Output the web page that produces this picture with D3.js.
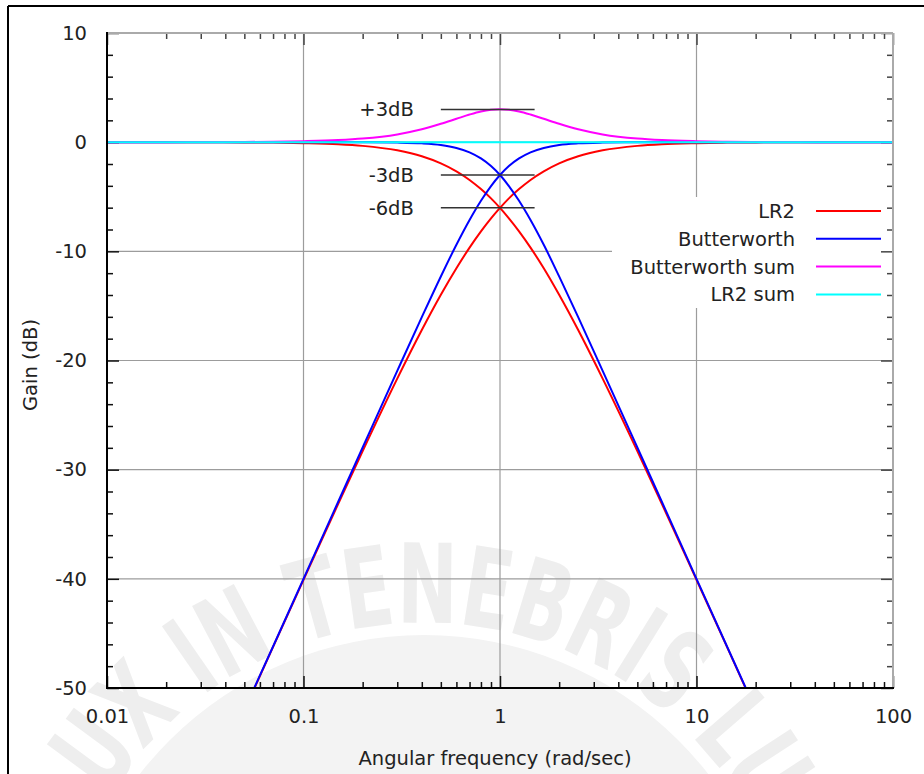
<!DOCTYPE html>
<html>
<head>
<meta charset="utf-8">
<script src="https://cdn.jsdelivr.net/npm/d3@7"></script>
<style>
  body { margin: 0; background: #fff; }
  text { font-family: "DejaVu Sans", sans-serif; }
</style>
</head>
<body>
<svg id="chart" width="924" height="774"></svg>
<script>
// angular frequency (rad/sec), log spaced and symmetric around 1
var freq = [0.01, 0.02, 0.03, 0.05, 0.07, 0.1, 0.15, 0.2, 0.3, 0.4, 0.5, 0.6, 0.7, 0.8, 0.9, 1,
            1.11, 1.25, 1.43, 1.67, 2, 2.5, 3.33, 5, 6.67, 10, 14.3, 20, 33.3, 50, 100];

// gains in dB
var lr2Low  = [0, 0, -0.01, -0.02, -0.04, -0.09, -0.19, -0.34, -0.75, -1.29, -1.94, -2.67, -3.46, -4.30, -5.15, -6.02,
               -6.98, -8.17, -9.66, -11.55, -13.98, -17.21, -21.66, -28.30, -33.15, -40.09, -46.24, -52.06, -60.92, -67.96, -80.0];
var lr2High = [-80.0, -67.96, -60.92, -52.06, -46.24, -40.09, -33.15, -28.30, -21.66, -17.21, -13.98, -11.55, -9.66, -8.17, -6.98, -6.02,
               -5.15, -4.30, -3.46, -2.67, -1.94, -1.29, -0.75, -0.34, -0.19, -0.09, -0.04, -0.02, -0.01, 0, 0];
var bwLow   = [0, 0, 0, 0, 0, 0, 0, -0.01, -0.04, -0.11, -0.26, -0.53, -0.93, -1.49, -2.19, -3.01,
               -4.02, -5.37, -7.13, -9.40, -12.30, -16.03, -20.95, -27.97, -32.96, -40.0, -46.2, -52.0, -60.9, -68.0, -80.0];
var bwHigh  = [-80.0, -68.0, -60.9, -52.0, -46.2, -40.0, -32.96, -27.97, -20.95, -16.03, -12.30, -9.40, -7.13, -5.37, -4.02, -3.01,
               -2.19, -1.49, -0.93, -0.53, -0.26, -0.11, -0.04, -0.01, 0, 0, 0, 0, 0, 0, 0];
var bwSum   = [0, 0, 0.01, 0.02, 0.04, 0.09, 0.19, 0.33, 0.71, 1.18, 1.68, 2.14, 2.53, 2.81, 2.96, 3.01,
               2.96, 2.81, 2.53, 2.14, 1.68, 1.18, 0.71, 0.33, 0.19, 0.09, 0.04, 0.02, 0.01, 0, 0];
var lr2Sum  = [0, 0, 0, 0, 0, 0, 0, 0, 0, 0, 0, 0, 0, 0, 0, 0,
               0, 0, 0, 0, 0, 0, 0, 0, 0, 0, 0, 0, 0, 0, 0];

var seriesNames = ["LR2", "Butterworth", "Butterworth sum", "LR2 sum"];
var seriesColors = ["#ff0000", "#0000ff", "#ff00ff", "#00ffff"];

var xTicks = [0.01, 0.1, 1, 10, 100];
var yTicks = [10, 0, -10, -20, -30, -40, -50];

var annLabels = ["+3dB", "-3dB", "-6dB"];
var annGain = [3, -3, -6];
var annFrom = 0.5, annTo = 1.5;

function main() {
    var svg = d3.select("#chart");
    var X0 = 107, X1 = 893, Y0 = 33, Y1 = 688;
    var fs = 19.5;

    var x = d3.scaleLog().domain([0.01, 100]).range([X0, X1]);
    var y = d3.scaleLinear().domain([-50, 10]).range([Y1, Y0]);

    // faint university seal behind everything
    var wm = svg.append("g");
    wm.append("circle").attr("cx", 424).attr("cy", 995).attr("r", 360).attr("fill", "#f3f3f3");
    var arc = d3.path();
    arc.arc(424, 995, 372, -170 * Math.PI / 180, 10 * Math.PI / 180);
    wm.append("path").attr("id", "wmArc").attr("d", arc.toString()).attr("fill", "none");
    wm.append("text")
        .attr("font-size", 110).attr("font-weight", "bold").attr("fill", "#eeeeee")
        .append("textPath")
        .attr("href", "#wmArc")
        .attr("startOffset", "50%")
        .attr("text-anchor", "middle")
        .attr("textLength", 970)
        .attr("lengthAdjust", "spacingAndGlyphs")
        .text("LUX IN TENEBRIS LUCET");

    // frame round the picture
    svg.append("line").attr("x1", 8).attr("x2", 924).attr("y1", 6).attr("y2", 6)
        .attr("stroke", "#000").attr("stroke-width", 2);
    svg.append("line").attr("x1", 8).attr("x2", 8).attr("y1", 6).attr("y2", 774)
        .attr("stroke", "#000").attr("stroke-width", 2);

    // grid
    var grid = svg.append("g").attr("stroke", "#9c9c9c").attr("stroke-width", 1.2);
    grid.selectAll(".gx").data(xTicks.slice(1, -1)).enter().append("line")
        .attr("x1", function(d){ return x(d); }).attr("x2", function(d){ return x(d); })
        .attr("y1", Y0).attr("y2", Y1);
    grid.selectAll(".gy").data(yTicks.slice(1, -1)).enter().append("line")
        .attr("x1", X0).attr("x2", X1)
        .attr("y1", function(d){ return y(d); }).attr("y2", function(d){ return y(d); });

    // opaque key box
    svg.append("rect").attr("x", 612).attr("y", 197).attr("width", X1 - 612).attr("height", 111)
        .attr("fill", "#fff");

    // axes (ticks under the curves)
    var xMinor = [];
    [0.01, 0.1, 1, 10].forEach(function(dec) {
        for (var k = 2; k < 10; k++) xMinor.push(dec * k);
    });
    var yMinor = d3.range(-48, 10, 2).filter(function(v){ return v % 10 !== 0; });

    function styleAxis(g, col) {
        g.select(".domain").remove();
        g.selectAll(".tick line").attr("stroke", col).attr("stroke-width", 1.5);
        g.selectAll(".tick text").attr("font-size", fs).attr("fill", "#222")
            .attr("font-family", "DejaVu Sans, sans-serif");
        g.attr("font-family", null).attr("font-size", null);
    }

    var ax;
    ax = svg.append("g").attr("transform", "translate(0," + Y1 + ")")
        .call(d3.axisBottom(x).tickValues(xTicks).tickSize(-12).tickSizeOuter(0).tickPadding(21)
            .tickFormat(function(d){ return String(d); }));
    styleAxis(ax, "#111");
    ax = svg.append("g").attr("transform", "translate(0," + Y1 + ")")
        .call(d3.axisBottom(x).tickValues(xMinor).tickSize(-6).tickSizeOuter(0).tickFormat(""));
    styleAxis(ax, "#111");
    ax = svg.append("g").attr("transform", "translate(0," + Y0 + ")")
        .call(d3.axisTop(x).tickValues(xTicks).tickSize(-12).tickSizeOuter(0).tickFormat(""));
    styleAxis(ax, "#444");
    ax = svg.append("g").attr("transform", "translate(0," + Y0 + ")")
        .call(d3.axisTop(x).tickValues(xMinor).tickSize(-6).tickSizeOuter(0).tickFormat(""));
    styleAxis(ax, "#444");

    ax = svg.append("g").attr("transform", "translate(" + X0 + ",0)")
        .call(d3.axisLeft(y).tickValues(yTicks).tickSize(-12).tickSizeOuter(0).tickPadding(20)
            .tickFormat(function(d){ return String(d); }));
    styleAxis(ax, "#111");
    ax = svg.append("g").attr("transform", "translate(" + X0 + ",0)")
        .call(d3.axisLeft(y).tickValues(yMinor).tickSize(-6).tickSizeOuter(0).tickFormat(""));
    styleAxis(ax, "#111");
    ax = svg.append("g").attr("transform", "translate(" + X1 + ",0)")
        .call(d3.axisRight(y).tickValues(yTicks).tickSize(-12).tickSizeOuter(0).tickFormat(""));
    styleAxis(ax, "#444");
    ax = svg.append("g").attr("transform", "translate(" + X1 + ",0)")
        .call(d3.axisRight(y).tickValues(yMinor).tickSize(-6).tickSizeOuter(0).tickFormat(""));
    styleAxis(ax, "#444");

    // curves
    svg.append("clipPath").attr("id", "plotClip").append("rect")
        .attr("x", X0).attr("y", Y0).attr("width", X1 - X0).attr("height", Y1 - Y0);
    var line = d3.line()
        .x(function(d, i){ return x(freq[i]); })
        .y(function(d){ return y(d); })
        .curve(d3.curveMonotoneX);
    var curves = [
        [lr2Low, 0], [lr2High, 0],
        [bwLow, 1], [bwHigh, 1],
        [bwSum, 2],
        [lr2Sum, 3]
    ];
    var plot = svg.append("g").attr("clip-path", "url(#plotClip)");
    curves.forEach(function(c) {
        plot.append("path").datum(c[0])
            .attr("d", line)
            .attr("fill", "none")
            .attr("stroke", seriesColors[c[1]])
            .attr("stroke-width", 2);
    });

    // -3/-6/+3 dB markers
    var ann = svg.append("g");
    annGain.forEach(function(g, i) {
        ann.append("line")
            .attr("x1", x(annFrom)).attr("x2", x(annTo))
            .attr("y1", y(g)).attr("y2", y(g))
            .attr("stroke", "#333").attr("stroke-width", 1.5);
        ann.append("text")
            .attr("x", x(annFrom) - 27).attr("y", y(g)).attr("dy", "0.36em")
            .attr("text-anchor", "end").attr("font-size", fs).attr("fill", "#222")
            .text(annLabels[i]);
    });

    // border lines: grey top/right, black left/bottom
    svg.append("line").attr("x1", X0).attr("x2", X1).attr("y1", Y0).attr("y2", Y0)
        .attr("stroke", "#aaa").attr("stroke-width", 2);
    svg.append("line").attr("x1", X1).attr("x2", X1).attr("y1", Y0).attr("y2", Y1)
        .attr("stroke", "#aaa").attr("stroke-width", 2);
    svg.append("line").attr("x1", X0).attr("x2", X1 + 1).attr("y1", Y1).attr("y2", Y1)
        .attr("stroke", "#000").attr("stroke-width", 2);
    svg.append("line").attr("x1", X0).attr("x2", X0).attr("y1", Y0 - 1).attr("y2", Y1 + 1)
        .attr("stroke", "#000").attr("stroke-width", 2);

    // axis titles
    svg.append("text").attr("x", 495).attr("y", 765)
        .attr("text-anchor", "middle").attr("font-size", fs).attr("fill", "#222")
        .text("Angular frequency (rad/sec)");
    svg.append("text").attr("transform", "translate(37,365) rotate(-90)")
        .attr("text-anchor", "middle").attr("font-size", fs).attr("fill", "#222")
        .text("Gain (dB)");

    // key
    var key = svg.append("g");
    seriesNames.forEach(function(name, i) {
        var ky = 211 + i * 27.8;
        key.append("text").attr("x", 795).attr("y", ky).attr("dy", "0.36em")
            .attr("text-anchor", "end").attr("font-size", fs).attr("fill", "#222")
            .text(name);
        key.append("line").attr("x1", 816).attr("x2", 881).attr("y1", ky).attr("y2", ky)
            .attr("stroke", seriesColors[i]).attr("stroke-width", 2);
    });
}

main();
</script>
</body>
</html>
